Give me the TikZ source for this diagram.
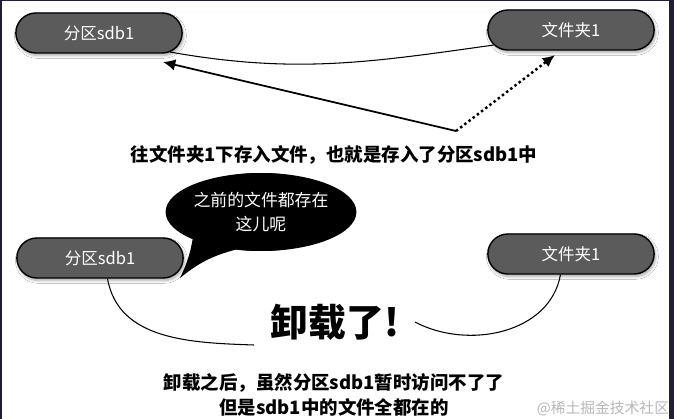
\documentclass[tikz,border=0pt]{standalone}
\usepackage{fontspec}
\setmainfont{Noto Sans CJK SC}
\usepackage{tikz}
\usetikzlibrary{
  shapes.geometric,
  shapes.misc,
  arrows.meta,
  positioning,
  shadows.blur
}
\usepackage{xcolor}
\definecolor{pillgray}{HTML}{5B5B5B}
\definecolor{framenavy}{HTML}{1F1D38}
\definecolor{markgray}{HTML}{B8B8B8}
\tikzset{
  pill/.style={
    rounded rectangle, draw=black, fill=pillgray,
    minimum width=3.56cm, minimum height=0.8cm,
    text=white, font=\fontsize{9.4}{11}\selectfont, line width=0.8pt,
    blur shadow={shadow xshift=0.8pt, shadow yshift=-1.4pt, shadow blur radius=1.6pt, shadow blur steps=5, shadow opacity=35}
  },
  arrow/.style={-{Latex[length=7pt, width=6.5pt]}, line width=1pt},
  dotarrow/.style={-{Latex[length=7pt, width=6.5pt]}, line width=1.4pt, dash pattern=on 1.4pt off 1.6pt},
  link/.style={line width=0.6pt},
  caption/.style={font=\fontsize{10.5}{14.2}\selectfont\bfseries, align=center},
}

\begin{document}
\begin{tikzpicture}[
  x=0.02cm, y=-0.02cm,
  bubble/.style={ellipse, fill=black, minimum width=3.48cm, minimum height=1.56cm, inner sep=0pt, text=white, font=\fontsize{9.6}{13.6}\selectfont, align=center},
]
\useasboundingbox (0,0) rectangle (674,419);
\fill[framenavy] (0,0) rectangle (674,419);
\fill[white] (2,1) rectangle (669,419);

% Before unmount
\node[pill] (tl) at (99,33) {分区sdb1};
\node[pill] (tr) at (571,30) {文件夹1};
\draw[link] (tl.-15) to[out=-10, in=188] (tr.191);

\coordinate (turn) at (456,131);
\coordinate (ltip) at (163,62);
\coordinate (rtip) at (555,55);
\draw[arrow] (turn) -- (ltip);
\draw[dotarrow] (turn) -- (rtip);

\node[caption] (cap1) at (334,155) {往文件夹1下存入文件，也就是存入了分区sdb1中};

% After unmount
\node[pill] (bl) at (100,258) {分区sdb1};
\node[pill] (br) at (571,254) {文件夹1};

\node[bubble] (bub) at (261,212) {};
\coordinate (btip) at (180,278);
\fill (bub.200) to[bend left=8] (btip) to[bend left=12] (bub.236) -- (bub.center) -- cycle;
\node[bubble] at (bub) {之前的文件都存在\\这儿呢};

\node[font=\fontsize{21.5}{24}\selectfont\bfseries] (gone) at (335,322) {卸载了!};
\coordinate (lend) at (254,345);
\coordinate (rstart) at (415,322);
\draw[link] (bl.-70) to[out=-80, in=178] (lend);
\draw[link] (rstart) to[out=-28, in=-100] (br.-117);

\node[caption] (cap2) at (334,395) {卸载之后，虽然分区sdb1暂时访问不了了\\但是sdb1中的文件全都在的};
\node[text=markgray, font=\fontsize{8.4}{10}\selectfont] (mark) at (603,409) {@稀土掘金技术社区};
\end{tikzpicture}
\end{document}
